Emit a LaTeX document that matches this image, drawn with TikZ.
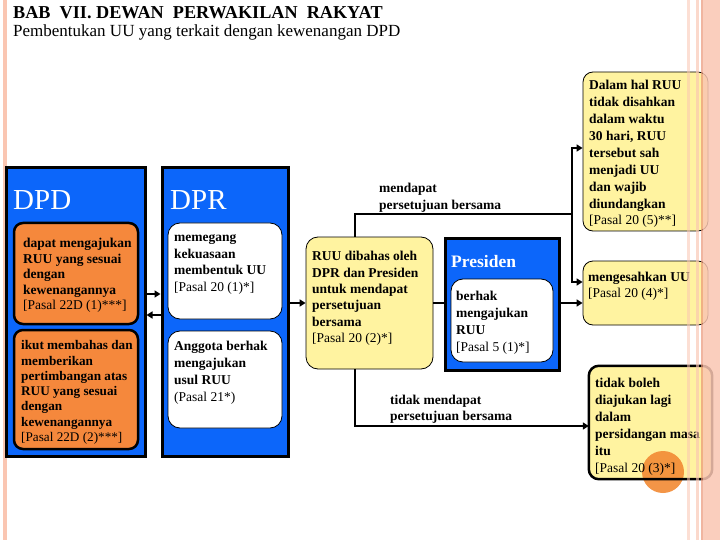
\documentclass[tikz,border=0pt]{standalone}
\usepackage{fontspec}
\setmainfont{Liberation Serif}
\usetikzlibrary{arrows.meta,fit}
\definecolor{bblue}{RGB}{12,102,250}
\definecolor{obox}{RGB}{245,136,60}
\definecolor{ybox}{RGB}{255,243,160}
\definecolor{salmon}{RGB}{250,198,178}
\definecolor{salmond}{RGB}{234,150,120}
\definecolor{circo}{RGB}{242,138,52}
\newcommand\fs{\rule{0pt}{10pt}}
\begin{document}
\begin{tikzpicture}[x=1pt,y=-1pt,
  bluebox/.style={fill=bblue,draw=black,line width=3pt,inner sep=0pt},
  orbox/.style={fill=obox,draw=black,line width=2.5pt,rounded corners=9pt,inner sep=0pt},
  whbox/.style={fill=white,draw=black,line width=0.8pt,rounded corners=12pt,inner sep=0pt},
  yebox/.style={fill=ybox,draw=black,line width=0.8pt,rounded corners=10pt,inner sep=0pt},
  txt/.style={anchor=north west,inner sep=0pt,align=left,font=\fontsize{13.5}{16.5}\selectfont\bfseries},
  bigt/.style={anchor=base west,inner sep=0pt,text=white,font=\fontsize{29}{30}\selectfont},
  ln/.style={line width=2.5pt,line join=miter},
  conn/.style={ln,-{Triangle[length=6pt,width=7pt]}}
]
\useasboundingbox (0,0) rectangle (720,540);
\fill[white] (0,0) rectangle (720,540);
% left decoration
\fill[salmon] (3,0) rectangle (7,540);

% title
\node[anchor=base west,inner sep=0pt,font=\fontsize{18.2}{20}\selectfont\bfseries] (title) at (13,18.5) {BAB\ \ VII. DEWAN\ \ PERWAKILAN\ \ RAKYAT};
\node[anchor=base west,inner sep=0pt,font=\fontsize{17}{19}\selectfont] (sub) at (13,36.5) {Pembentukan UU yang terkait dengan kewenangan DPD};

% DPD column
\node[bluebox,fit={(6,168) (145,456)}] (dpd) {};
\node[bigt] (dpdt) at (13,210) {DPD};
\node[orbox,fit={(14,223) (138,324)}] (o1) {};
\node[txt,font=\fontsize{13.5}{15.5}\selectfont\bfseries] (o1t) at (23,237.5) {\fs dapat mengajukan\\RUU yang sesuai\\dengan\\kewenangannya\\\mdseries [Pasal 22D (1)***]};
\node[orbox,fit={(14,330) (138,449)}] (o2) {};
\node[txt,font=\fontsize{13.2}{15.3}\selectfont\bfseries] (o2t) at (21,339.5) {\fs ikut membahas dan\\memberikan\\pertimbangan atas\\RUU yang sesuai\\dengan\\kewenangannya\\\mdseries [Pasal 22D (2)***]};

% DPR column
\node[bluebox,fit={(162,168) (288,456)}] (dpr) {};
\node[bigt] (dprt) at (170,210) {DPR};
\node[whbox,fit={(168,223) (282,319)}] (w1) {};
\node[txt] (w1t) at (174,231.5) {\fs memegang\\kekuasaan\\membentuk UU\\\mdseries [Pasal 20 (1)*]};
\node[whbox,fit={(168,331) (282,428)}] (w2) {};
\node[txt,font=\fontsize{13.5}{17}\selectfont\bfseries] (w2t) at (174,340.5) {\fs Anggota berhak\\mengajukan\\usul RUU\\\mdseries (Pasal 21*)};

% RUU box
\node[yebox,rounded corners=12pt,fit={(306,237) (433,369)}] (ruu) {};
\node[txt,font=\fontsize{13.5}{16.4}\selectfont\bfseries] (ruut) at (312,250.5) {\fs RUU dibahas oleh\\DPR dan Presiden\\untuk mendapat\\persetujuan\\bersama\\\mdseries [Pasal 20 (2)*]};

% Presiden
\node[bluebox,fit={(445,238) (559,370)}] (pres) {};
\node[anchor=base west,inner sep=0pt,text=white,font=\fontsize{17.5}{20}\selectfont\bfseries] (prest) at (451,267) {Presiden};
\node[whbox,fit={(451,279) (553,362)}] (pw) {};
\node[txt,font=\fontsize{13.5}{17}\selectfont\bfseries] (pwt) at (456,290.5) {\fs berhak\\mengajukan\\RUU\\\mdseries [Pasal 5 (1)*]};

% labels on lines
\node[txt,font=\fontsize{13.5}{17}\selectfont\bfseries] (lab1) at (379,182.5) {\fs mendapat\\persetujuan bersama};
\node[txt,font=\fontsize{13.5}{16}\selectfont\bfseries] (lab2) at (390,394.5) {\fs tidak mendapat\\persetujuan bersama};

% right boxes
\node[yebox,fit={(583,72) (708,231)}] (dalam) {};
\node[txt,font=\fontsize{13.5}{16.9}\selectfont\bfseries] (dalamt) at (589,79.5) {\fs Dalam hal RUU\\tidak disahkan\\dalam waktu\\30 hari, RUU\\tersebut sah\\menjadi UU\\dan wajib\\diundangkan\\\mdseries [Pasal 20 (5)**]};
\node[yebox,fit={(583,261) (708,325)}] (sah) {};
\node[txt,font=\fontsize{13.5}{16}\selectfont\bfseries] (saht) at (588,271.5) {\fs mengesahkan UU\\\mdseries [Pasal 20 (4)*]};
\node[fill=ybox,rounded corners=10pt,inner sep=0pt,fit={(589,366) (712,479)}] (tb) {};
\fill[circo,opacity=0.9] (663,472) circle (21);
\draw[line width=2.5pt,rounded corners=10pt] (tb.north west) rectangle (tb.south east);
\node[txt,font=\fontsize{13.5}{17}\selectfont\bfseries] (tbt) at (595,377.5) {\fs tidak boleh\\diajukan lagi\\dalam\\persidangan masa\\itu\\\mdseries [Pasal 20 (3)*]};

% connectors
\coordinate (ya) at (0,294);
\coordinate (yb) at (0,315);
\coordinate (yc) at (0,303);
\coordinate (yd) at (0,148);
\coordinate (ye) at (0,282);
\coordinate (yf) at (0,426);
\coordinate (cx) at (355,0);
\coordinate (jn) at (572,214);
\draw[conn] (dpd.east |- ya) -- (dpr.west |- ya);
\draw[conn] (dpr.west |- yb) -- (dpd.east |- yb);
\draw[conn] (dpr.east |- yc) -- (ruu.west |- yc);
\draw[ln] (ruu.east |- yc) -- (pres.west |- yc);
\draw[conn] (pres.east |- yc) -- (sah.west |- yc);
\draw[ln] (ruu.north -| cx) |- (jn);
\draw[conn] (jn) |- (dalam.west |- yd);
\draw[conn] (jn) |- (sah.west |- ye);
\draw[conn] (ruu.south -| cx) |- (tb.west |- yf);

% right decoration
\fill[salmon,opacity=0.55] (687,0) rectangle (690,540);
\fill[salmon,opacity=0.65] (696,0) rectangle (698.5,540);
\fill[salmond,opacity=0.7] (701,0) rectangle (702.5,540);
\fill[salmon,opacity=0.85] (702.5,0) rectangle (720,540);
\end{tikzpicture}
\end{document}
